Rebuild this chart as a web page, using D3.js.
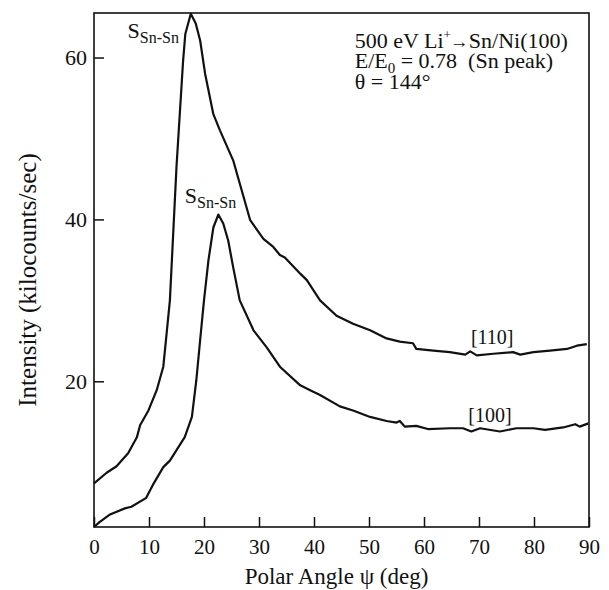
<!DOCTYPE html>
<html>
<head>
<meta charset="utf-8">
<script src="https://cdn.jsdelivr.net/npm/d3@7"></script>
<style>
  body { margin: 0; background: #fff; }
</style>
</head>
<body>
<svg id="chart" width="609" height="590"></svg>
<script>
// ── Data ──
const angle110 = [0, 2.3, 4.1, 6.2, 7.8, 8.4, 9.9, 11.4, 12.6, 13.2,
  13.8, 15, 16.2, 16.6, 17.6, 18.5, 19.3, 20.2, 21.7, 22.9,
  25.3, 28.4, 30.8, 32.6, 33.8, 34.7, 37.5, 38.7, 41.1, 44.1,
  47.1, 50.2, 53.2, 55.6, 58, 58.6, 61.7, 64.7, 67.5, 68.4,
  69.6, 72.6, 76.2, 77.5, 79.9, 82.9, 86, 87.8, 89.6];
const intensity110 = [7.4, 8.7, 9.5, 11.1, 13.1, 14.6, 16.4, 18.9, 21.8, 25.9,
  30, 46.5, 59.6, 62.9, 65.4, 64.2, 62.1, 58, 53, 51,
  47.3, 39.9, 37.6, 36.6, 35.6, 35.3, 33.3, 32.5, 30, 28.1,
  27.1, 26.3, 25.3, 24.9, 24.7, 24, 23.8, 23.6, 23.3, 23.7,
  23.2, 23.4, 23.6, 23.3, 23.6, 23.8, 24, 24.4, 24.6];

const angle100 = [0, 1, 2.8, 5.6, 6.8, 9.5, 10.7, 12.6, 13.8, 16.5,
  17.8, 18.6, 19.3, 20, 20.8, 21.7, 22.6, 23.5, 24.4, 25.3,
  26.5, 29, 31.4, 33.8, 37.5, 39.3, 41.1, 44.7, 47.1, 50.2,
  53.2, 55, 55.6, 56.5, 58.6, 60.7, 64.7, 67.1, 68.6, 70.2,
  73.8, 76.8, 79.9, 82, 85.3, 87.5, 88.3, 89.9];
const intensity100 = [2.0, 2.6, 3.5, 4.3, 4.5, 5.6, 7.2, 9.4, 10.2, 13.1,
  15.6, 20.1, 25.1, 30, 34.9, 39, 40.6, 39.5, 37.4, 34.1,
  30, 26.3, 24.2, 21.8, 19.5, 18.9, 18.3, 16.9, 16.4, 15.6,
  15.1, 14.9, 15.1, 14.4, 14.5, 14.1, 14.2, 14.2, 13.8, 14.2,
  13.8, 14.2, 14.2, 14, 14.3, 14.7, 14.4, 14.8];

const xTicks = [0, 10, 20, 30, 40, 50, 60, 70, 80, 90];
const yTicks = [20, 40, 60];

const FONT = '"Liberation Serif"';
const margin = { top: 13, right: 20, bottom: 63, left: 94 };
const width = 609 - margin.left - margin.right;
const height = 590 - margin.top - margin.bottom;

const svg = d3.select('#chart');
const g = svg.append('g').attr('transform', `translate(${margin.left},${margin.top})`);

const x = d3.scaleLinear().domain([0, 90]).range([0, width]);
const y = d3.scaleLinear().domain([2, 65.5]).range([height, 0]);

// ── Axes (ticks pointing inward) ──
const xAxis = g.append('g')
  .attr('transform', `translate(0,${height})`)
  .call(d3.axisBottom(x).tickValues(xTicks).tickSize(-10).tickPadding(8).tickSizeOuter(0));
xAxis.selectAll('text').style('font-size', '21px').attr('dy', '0.9em');

const yAxis = g.append('g')
  .call(d3.axisLeft(y).tickValues(yTicks).tickSize(-10).tickPadding(8).tickSizeOuter(0));
yAxis.selectAll('text').style('font-size', '22px').attr('x', -7);

[xAxis, yAxis].forEach(a => {
  a.attr('font-family', null);
  a.selectAll('line').attr('stroke', '#111').attr('stroke-width', 1.5);
  a.select('.domain').remove();
});

// Frame
g.append('rect')
  .attr('width', width).attr('height', height)
  .attr('fill', 'none').attr('stroke', '#111').attr('stroke-width', 1.6);

// ── Curves ──
const line = d3.line().x(d => x(d[0])).y(d => y(d[1]));

g.append('path')
  .datum(d3.zip(angle110, intensity110))
  .attr('fill', 'none').attr('stroke', '#111').attr('stroke-width', 2.2)
  .attr('stroke-linejoin', 'round')
  .attr('d', line);

g.append('path')
  .datum(d3.zip(angle100, intensity100))
  .attr('fill', 'none').attr('stroke', '#111').attr('stroke-width', 2.2)
  .attr('stroke-linejoin', 'round')
  .attr('d', line);

// ── Labels ──
function sLabel(xv, yv) {
  const t = g.append('text')
    .attr('x', x(xv)).attr('y', y(yv))
    .style('font-size', '22px');
  t.append('tspan').text('S');
  t.append('tspan').attr('dy', 5).style('font-size', '16px').text('Sn-Sn');
}
sLabel(6.1, 62.4);
sLabel(16.5, 42.0);

g.append('text')
  .attr('x', x(72.4)).attr('y', y(24.6))
  .attr('text-anchor', 'middle').style('font-size', '20px').text('[110]');
g.append('text')
  .attr('x', x(72)).attr('y', y(15.0))
  .attr('text-anchor', 'middle').style('font-size', '20px').text('[100]');

// Conditions
const note = g.append('g').attr('transform', `translate(${x(47.4)},0)`);
const l1 = note.append('text').attr('y', 35).style('font-size', '22px');
l1.append('tspan').text('500 eV Li');
l1.append('tspan').attr('dy', -9).style('font-size', '13px').text('+');
l1.append('tspan').attr('dy', 9).attr('dx', -1).style('font-size', '19px').text('\u2192');
l1.append('tspan').text('Sn/Ni(100)');

const l2 = note.append('text').attr('y', 55).style('font-size', '22px');
l2.append('tspan').text('E/E');
l2.append('tspan').attr('dy', 5).style('font-size', '15px').text('0');
l2.append('tspan').attr('dy', -5).text(' = 0.78 \u00a0(Sn peak)');

note.append('text').attr('y', 76).style('font-size', '22px').text('\u03b8 = 144\u00b0');

// Axis titles
svg.append('text')
  .attr('x', margin.left + width / 2 - 5).attr('y', 584)
  .attr('text-anchor', 'middle').style('font-size', '23px')
  .text('Polar Angle \u03c8 (deg)');

svg.append('text')
  .attr('transform', `translate(36,${margin.top + 267}) rotate(-90)`)
  .attr('text-anchor', 'middle').style('font-size', '25px')
  .text('Intensity (kilocounts/sec)');

svg.selectAll('text').style('font-family', FONT).attr('fill', '#111');
</script>
</body>
</html>
